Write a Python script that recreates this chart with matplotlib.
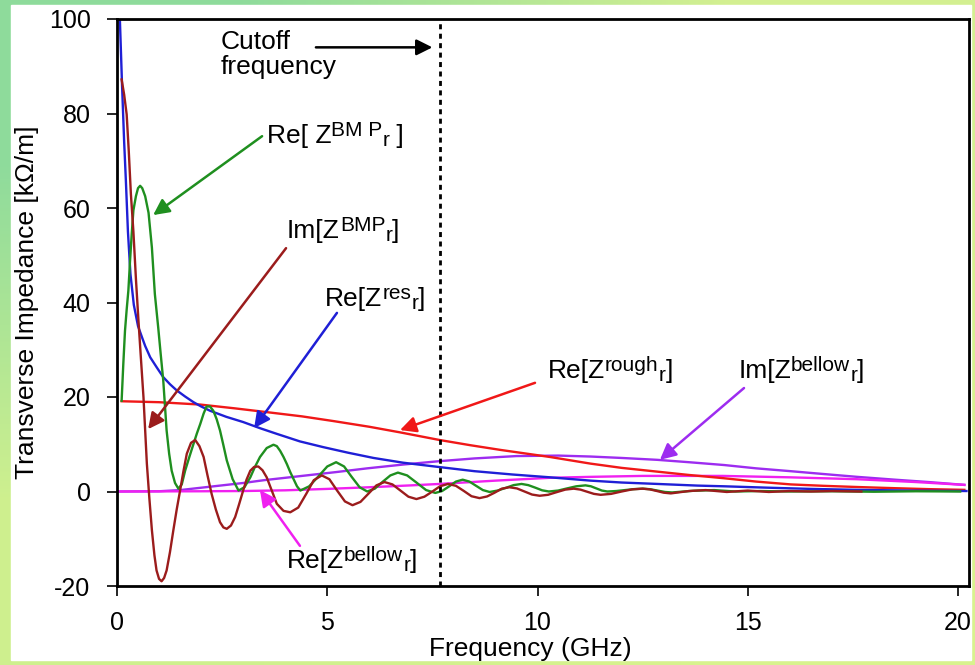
import numpy as np
import matplotlib
matplotlib.use("Agg")
import matplotlib.pyplot as plt
from matplotlib.patches import Rectangle

plt.rcParams['font.family'] = ['Liberation Sans', 'DejaVu Sans']
plt.rcParams['axes.unicode_minus'] = False

# values (GHz, kOhm/m)
res_x = [0.02, 0.07, 0.12, 0.17, 0.21, 0.26, 0.32, 0.4, 0.5, 0.6, 0.67, 0.79, 0.95, 1.1, 1.26,
         1.42, 1.62, 1.82, 2.0, 2.21, 2.6, 3.0, 3.4, 3.8, 4.35, 4.9, 5.5, 6.1, 6.8, 7.64, 8.5,
         9.4, 10.3, 11.26, 12.0, 12.85, 13.8, 14.44, 15.5, 16.5, 17.6, 18.8, 20.2]
res_y = [108, 99.5, 86, 74, 66, 55, 46, 39.5, 35, 32.5, 30.8, 28.4, 26.2, 24.2, 22.7,
         21.4, 20.1, 18.9, 18.0, 17.1, 15.8, 14.7, 13.4, 12.2, 10.6, 9.4, 8.2, 7.1, 6.1, 5.2, 4.3,
         3.6, 3.0, 2.3, 1.9, 1.6, 1.25, 1.1, 0.8, 0.55, 0.35, 0.2, 0.1]

bmp_re_x = [0.11, 0.15, 0.19, 0.23, 0.27, 0.31, 0.35, 0.39, 0.45, 0.5, 0.55, 0.6, 0.67, 0.75,
            0.83, 0.9, 0.98, 1.04, 1.1, 1.18, 1.24, 1.3, 1.38, 1.46, 1.54, 1.62, 1.72, 1.82,
            1.9, 1.98, 2.06, 2.13, 2.21, 2.29, 2.37, 2.45, 2.53, 2.61, 2.75, 2.89, 3.03, 3.17,
            3.28, 3.4, 3.56, 3.72, 3.8, 3.88, 3.96, 4.04, 4.12, 4.2, 4.28, 4.36, 4.57, 4.79,
            5.0, 5.21, 5.4, 5.58, 5.77, 5.95, 6.13, 6.31, 6.5, 6.68, 6.9, 7.12, 7.35, 7.57,
            7.73, 7.9, 8.06, 8.22, 8.38, 8.54, 8.7, 8.86, 9.05, 9.24, 9.43, 9.62, 9.78, 9.95,
            10.11, 10.27, 10.49, 10.7, 10.92, 11.14, 11.27, 11.4, 11.53, 11.66, 11.87, 12.08,
            12.29, 12.5, 12.68, 12.85, 13.03, 13.2, 13.7, 14.2, 14.7, 15.3, 16.0, 17.0, 18.0,
            19.0, 20.05]
bmp_re_y = [19.2, 27, 34, 38.5, 42.5, 48.8, 54.5, 59.5, 62.5, 64.2, 64.7, 64.2, 62.5, 59,
            51.6, 41.8, 34.7, 29, 23.5, 12.9, 8.0, 4.4, 1.8, 0.6, 1.5, 4.4, 7.3, 10.1,
            12.3, 14.3, 16.5, 18.0, 18.0, 17.1, 15.3, 12.9, 9.8, 6.6, 2.6, 0.2, 0.9, 3.0,
            5.2, 7.3, 9.2, 9.9, 9.6, 8.6, 7.3, 5.8, 4.1, 2.6, 1.1, 0.2, 1.1, 3.2,
            5.3, 6.2, 5.3, 3.1, 0.9, 0.0, 0.6, 2.0, 3.4, 4.0, 3.4, 1.9, 0.3, -0.3,
            0.1, 1.1, 2.1, 2.5, 2.1, 1.2, 0.3, -0.1, 0.2, 0.75, 1.35, 1.6, 1.35, 0.8,
            0.25, 0.0, 0.2, 0.65, 1.1, 1.3, 1.1, 0.65, 0.2, 0.0, 0.1, 0.3,
            0.5, 0.6, 0.48, 0.2, -0.1, -0.2, 0.15, 0.3, 0.0, 0.1, 0.0, 0.05, -0.05,
            0.05, 0.0]

bmp_im_x = [0.11, 0.17, 0.23, 0.28, 0.33, 0.39, 0.45, 0.51, 0.57, 0.63, 0.71, 0.77, 0.83, 0.89,
            0.94, 1.0, 1.06, 1.12, 1.18, 1.26, 1.34, 1.42, 1.5, 1.58, 1.66, 1.76, 1.86, 1.96,
            2.06, 2.15, 2.25, 2.35, 2.45, 2.53, 2.61, 2.71, 2.81, 2.9, 3.0, 3.08, 3.17, 3.26,
            3.36, 3.46, 3.56, 3.68, 3.8, 3.96, 4.12, 4.31, 4.5, 4.68, 4.87, 5.05, 5.23, 5.42,
            5.6, 5.79, 5.98, 6.17, 6.36, 6.55, 6.74, 6.93, 7.12, 7.31, 7.5, 7.68, 7.87, 8.06,
            8.25, 8.43, 8.62, 8.8, 8.98, 9.15, 9.33, 9.51, 9.69, 9.87, 10.05, 10.25, 10.45,
            10.66, 10.86, 11.02, 11.18, 11.34, 11.5, 11.75, 12.0, 12.25, 12.5, 12.67, 12.84,
            13.0, 13.17, 13.6, 14.0, 14.5, 15.0, 15.5, 16.0, 16.5, 17.0, 17.7]
bmp_im_y = [87.2, 84, 79.8, 72, 63, 55, 45, 36.2, 28, 19.9, 5.9, -1.5, -8.2, -13.5,
            -16.7, -18.5, -19.0, -18.3, -16.7, -12.8, -8.2, -3.8, 0.2, 4.3, 8.0, 10.3, 10.9, 9.6,
            7.3, 3.5, -0.5, -3.8, -6.5, -7.6, -7.9, -7.2, -5.4, -2.8, 0.2, 2.5, 4.4, 5.2,
            5.3, 4.5, 3.0, 0.2, -2.6, -4.1, -4.4, -3.4, -0.5, 2.4, 3.4, 2.6, 0.25, -2.1,
            -2.9, -2.2, -0.45, 1.3, 2.0, 1.5, 0.2, -1.1, -1.6, -1.1, 0.0, 1.1, 1.6, 1.2,
            0.1, -1.0, -1.4, -1.05, -0.25, 0.6, 0.9, 0.65, 0.0, -0.65, -0.9, -0.7, -0.15,
            0.4, 0.6, 0.4, -0.05, -0.5, -0.7, -0.5, 0.0, 0.45, 0.6, 0.45, 0.1,
            -0.25, -0.4, 0.1, 0.3, -0.1, 0.2, -0.1, 0.1, 0.0, 0.1, 0.0]

rough_x = [0.11, 1.0, 1.98, 2.8, 3.56, 4.4, 5.15, 6.0, 6.74, 7.67, 8.4, 9.12, 10.3, 11.26,
           12.0, 12.85, 13.6, 14.44, 15.2, 16.02, 16.8, 17.6, 18.5, 19.3, 20.15]
rough_y = [19.1, 18.9, 18.4, 17.6, 16.8, 15.9, 14.9, 13.7, 12.5, 10.9, 9.8, 8.8, 7.3, 5.9,
           5.0, 4.2, 3.5, 2.8, 2.1, 1.5, 1.2, 0.95, 0.7, 0.5, 0.35]

bellow_im_x = [0, 1.0, 1.5, 2.0, 2.5, 3.0, 3.5, 4.0, 4.6, 5.2, 5.95, 6.8, 7.64, 8.5, 9.5,
               10.5, 11.26, 12.0, 12.85, 13.6, 14.44, 15.2, 16.02, 16.8, 17.6, 18.5, 19.3, 20.15]
bellow_im_y = [0, 0.05, 0.3, 0.8, 1.3, 1.8, 2.4, 2.9, 3.5, 4.1, 4.9, 5.7, 6.4, 7.0, 7.5,
               7.6, 7.4, 7.1, 6.7, 6.2, 5.6, 4.9, 4.3, 3.7, 3.1, 2.5, 2.0, 1.4]

bellow_re_x = [0, 2, 3, 4, 5, 6, 7, 7.67, 9, 10.3, 11.26, 12.5, 14.4, 16, 17.6, 19, 20.15]
bellow_re_y = [0, 0.05, 0.1, 0.25, 0.55, 0.9, 1.3, 1.6, 2.3, 2.9, 3.1, 3.3, 3.3, 3.0, 2.6, 2.0, 1.4]

cutoff_ghz = 7.67

fig = plt.figure(figsize=(9.75, 6.65), dpi=100)

# gradient frame behind the white panel
bg = fig.add_axes([0, 0, 1, 1], zorder=0)
grad = np.array([[[0.81, 0.94, 0.56], [0.85, 0.95, 0.56]],
                 [[0.56, 0.86, 0.61], [0.83, 0.94, 0.57]]])
bg.imshow(grad, extent=[0, 1, 0, 1], origin='lower', aspect='auto', interpolation='bilinear')
bg.add_patch(Rectangle((11 / 975, 5 / 665), 960 / 975, 655 / 665, color='white'))
bg.set_xlim(0, 1)
bg.set_ylim(0, 1)
bg.axis('off')

ax = fig.add_axes([117 / 975, 1 - 586 / 665, 852 / 975, 567 / 665], zorder=1)

ax.plot(bellow_im_x, bellow_im_y, color='#9d2cf0', lw=1.7)
ax.plot(bellow_re_x, bellow_re_y, color='#f020f0', lw=1.7)
ax.plot(rough_x, rough_y, color='#f01818', lw=1.7)
ax.plot(res_x, res_y, color='#1f1fd6', lw=1.7)
ax.plot(bmp_re_x, bmp_re_y, color='#1f8f1f', lw=1.7)
ax.plot(bmp_im_x, bmp_im_y, color='#9b1c1c', lw=1.7)
ax.axvline(cutoff_ghz, color='black', lw=2, linestyle=(0, (1.8, 1.6)))

ax.set_xlim(0, 20.26)
ax.set_ylim(-20, 100)
ax.set_xticks([0, 5, 10, 15, 20])
ax.set_yticks([-20, 0, 20, 40, 60, 80, 100])
ax.tick_params(axis='both', direction='out', length=7, width=1.2, labelsize=18)
ax.tick_params(axis='y', pad=12)
ax.tick_params(axis='x', pad=11)
for s in ax.spines.values():
    s.set_linewidth(2)

ax.set_xlabel('Frequency (GHz)', fontsize=19)
ax.xaxis.set_label_coords(0.485, -0.09)
ax.xaxis.label.set_va('top')
ax.set_ylabel('Transverse Impedance [kΩ/m]', fontsize=19)
ax.yaxis.set_label_coords(-0.092, 0.5)

fs = 19
small = 15


def rich_label(x, y, base, sup, sub, close, tail, head, color):
    # base text, then superscript, subscript and closing bracket chained to the right
    t0 = ax.text(x, y, base, fontsize=fs, ha='left', va='baseline')
    t1 = ax.annotate(sup, xy=(1, 0), xycoords=t0, xytext=(0, 5.9),
                     textcoords='offset points', fontsize=small, ha='left', va='bottom')
    t2 = ax.annotate(sub, xy=(1, 0), xycoords=t1, xytext=(0, -7.2),
                     textcoords='offset points', fontsize=small, ha='left', va='bottom')
    ax.annotate(close, xy=(1, 0), xycoords=t2, xytext=(0, 1.3),
                textcoords='offset points', fontsize=fs, ha='left', va='bottom')
    ax.annotate('', xy=head, xytext=tail,
                arrowprops=dict(arrowstyle='-|>', color=color, lw=1.8,
                                mutation_scale=24, shrinkA=0, shrinkB=0))


ax.text(2.47, 93.7, 'Cutoff', fontsize=fs, ha='left', va='baseline')
ax.text(2.47, 88.3, 'frequency', fontsize=fs, ha='left', va='baseline')
ax.annotate('', xy=(7.5, 94.0), xytext=(4.73, 94.0),
            arrowprops=dict(arrowstyle='-|>', color='black', lw=1.8,
                            mutation_scale=24, shrinkA=0, shrinkB=0))

rich_label(3.56, 73.8, 'Re[ Z', 'BM P', 'r', ' ]', (3.45, 75.2), (0.86, 58.5), '#1f8f1f')
rich_label(4.04, 53.7, 'Im[Z', 'BMP', 'r', ']', (4.02, 51.5), (0.74, 13.2), '#9b1c1c')
rich_label(4.95, 39.3, 'Re[Z', 'res', 'r', ']', (5.23, 37.8), (3.26, 13.4), '#1f1fd6')
rich_label(10.24, 24.0, 'Re[Z', 'rough', 'r', ']', (9.94, 23.0), (6.73, 13.0), '#f01818')
rich_label(14.77, 24.0, 'Im[Z', 'bellow', 'r', ']', (14.91, 21.9), (12.91, 6.7), '#9d2cf0')
rich_label(4.04, -16.2, 'Re[Z', 'bellow', 'r', ']', (4.35, -11.5), (3.4, 0.3), '#f020f0')

fig.savefig('out.png', dpi=100)
